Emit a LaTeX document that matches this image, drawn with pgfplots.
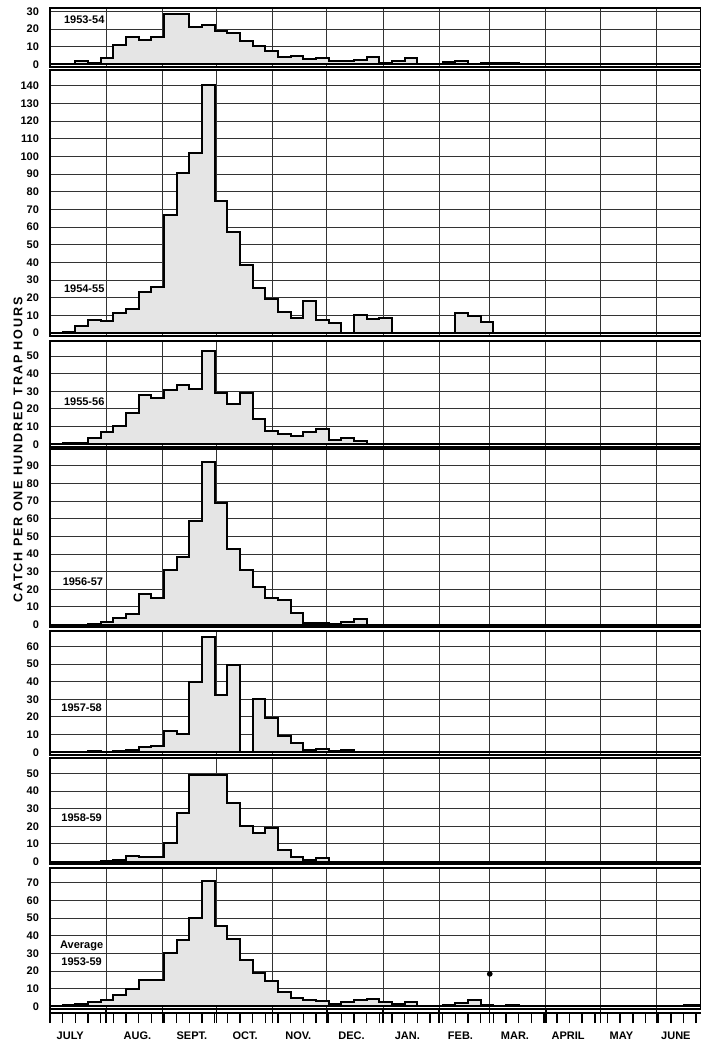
\documentclass[border=0pt]{standalone}
\usepackage{fontspec}
\setmainfont{Liberation Sans}
\usepackage{pgfplots}
\pgfplotsset{compat=1.18}

\newcommand\tickfont{\fontsize{5.5}{6}\selectfont\bfseries}
\newcommand\lblfont{\fontsize{5.5}{6.5}\selectfont\bfseries}

% month boundaries in weeks from 1 July
\def\months{0,4.43,8.86,13.14,17.57,21.86,26.29,30.71,34.71,39.14,43.43,47.86}

\pgfplotsset{
  panel/.style={
    x=6.335pt, y=0.8825pt, xmin=0, xmax=51.4,
    anchor=north west,
    axis line style={line width=1pt},
    xtick=\months, xticklabels={},
    ytick distance=10,
    grid=major, major grid style={black!80, line width=0.5pt},
    major tick length=0pt,
    yticklabel style={font=\tickfont, xshift=-2pt},
    /pgf/number format/assume math mode=true,
  },
  hist/.style={const plot mark left, fill=gray!20, draw=black, line width=1pt},
}

\begin{document}
\begin{tikzpicture}

% 1953-54
\begin{axis}[panel, at={(0pt,0pt)}, ymin=-1.5, ymax=32]
\addplot[hist] coordinates {(0,0)(1,0)(2,2)(3,1)(4,3.5)(5,11)(6,15.4)(7,14)(8,15.7)(9,28.5)(10,28.5)(11,21)(12,22.4)(13,19)(14,18)(15,13.5)(16,10.4)(17,7.4)(18,4)(19,4.8)(20,3)(21,3.5)(22,1.7)(23,2.2)(24,2.8)(25,4.4)(26,1.1)(27,1.7)(28,3.5)(29,0)(30,0)(31,1.3)(32,2)(33,0)(34,0.6)(35,0.6)(36,0.6)(37,0)(50,0.5)(51,0.5)(52,0)} \closedcycle;
\node[font=\lblfont] at (axis cs:2.7,25.4) {1953-54};
\end{axis}

% 1954-55
\begin{axis}[panel, at={(0pt,-31pt)}, ymin=-1.5, ymax=149]
\addplot[hist] coordinates {(0,0)(1,0.8)(2,4)(3,7.3)(4,7)(5,11.5)(6,13.4)(7,23.4)(8,26.2)(9,66.9)(10,90.6)(11,102)(12,140.3)(13,74.8)(14,57.4)(15,38.4)(16,25.4)(17,19.4)(18,11.7)(19,8.5)(20,18.3)(21,7.5)(22,5.5)(23,0)(24,10)(25,7.8)(26,8.3)(27,0)(32,11.5)(33,9.8)(34,6.5)(35,0)(52,0)} \closedcycle;
\node[font=\lblfont] at (axis cs:2.7,24.9) {1954-55};
\end{axis}

% 1955-56
\begin{axis}[panel, at={(0pt,-166.5pt)}, ymin=-1.5, ymax=58.5]
\addplot[hist] coordinates {(0,0)(1,1)(2,1)(3,3.8)(4,7)(5,10.2)(6,17.9)(7,27.9)(8,26)(9,30.8)(10,33.4)(11,31.5)(12,52.8)(13,29.2)(14,23)(15,28.9)(16,14.2)(17,7.7)(18,5.7)(19,4.5)(20,6.8)(21,8.9)(22,2.6)(23,3.6)(24,2.1)(25,0)(52,0)} \closedcycle;
\node[font=\lblfont] at (axis cs:2.7,24.2) {1955-56};
\end{axis}

% 1956-57
\begin{axis}[panel, at={(0pt,-220.5pt)}, ymin=-1.5, ymax=99.5]
\addplot[hist] coordinates {(0,0)(3,0.6)(4,1.3)(5,4)(6,5.9)(7,17.4)(8,15.3)(9,30.9)(10,38.3)(11,58.7)(12,92.2)(13,68.9)(14,42.8)(15,30.9)(16,21.2)(17,15.3)(18,14)(19,6.6)(20,0.9)(21,0.9)(22,0.4)(23,1.7)(24,3)(25,0)(52,0)} \closedcycle;
\node[font=\lblfont] at (axis cs:2.6,24.4) {1956-57};
\end{axis}

% 1957-58
\begin{axis}[panel, at={(0pt,-311.5pt)}, ymin=-1.5, ymax=68.7]
\addplot[hist] coordinates {(0,0)(3,0.6)(4,0.2)(5,1)(6,1.5)(7,2.9)(8,3.8)(9,12)(10,10.5)(11,39.6)(12,65.3)(13,32.4)(14,49.7)(15,0)(16,30.1)(17,19.6)(18,9.5)(19,5.3)(20,1.1)(21,2.1)(22,0.8)(23,1.5)(24,0)(52,0)} \closedcycle;
\node[font=\lblfont] at (axis cs:2.5,25.1) {1957-58};
\end{axis}

% 1958-59
\begin{axis}[panel, at={(0pt,-375pt)}, ymin=-1.5, ymax=58.7]
\addplot[hist] coordinates {(0,0)(4,0.4)(5,1)(6,3.2)(7,2.6)(8,2.5)(9,10.8)(10,27.4)(11,49)(12,49)(13,49)(14,33)(15,20.4)(16,16.4)(17,18.9)(18,6.6)(19,2.5)(20,0.9)(21,2.1)(22,0)(52,0)} \closedcycle;
\node[font=\lblfont] at (axis cs:2.5,25.1) {1958-59};
\end{axis}

% Average 1953-59
\begin{axis}[panel, at={(0pt,-430pt)}, ymin=-1.5, ymax=78.4]
\addplot[hist] coordinates {(0,0.2)(1,0.6)(2,1.5)(3,2.6)(4,3.9)(5,6.6)(6,9.9)(7,15)(8,15)(9,30.4)(10,37.9)(11,49.9)(12,71.3)(13,45.6)(14,38.1)(15,26.5)(16,18.8)(17,14.6)(18,8.4)(19,4.9)(20,3.8)(21,3.2)(22,1.5)(23,2.3)(24,3.4)(25,4.3)(26,2.3)(27,1.1)(28,2.4)(29,0)(31,0.6)(32,2.1)(33,3.8)(34,1)(35,0.5)(36,0.8)(37,0)(49,0.5)(50,1)(51,1)(52,0)} \closedcycle;
\addplot[only marks, mark=*, mark size=1.2pt, black] coordinates {(34.71,18.4)};
\node[font=\lblfont] at (axis cs:2.5,34.1) {Average};
\node[font=\lblfont] at (axis cs:2.5,25.1) {1953-59};
\end{axis}

% week / month scale
\begin{axis}[at={(0pt,-500.5pt)}, anchor=north west,
  x=6.335pt, y=2pt, xmin=0, xmax=51.4, ymin=0, ymax=1,
  axis x line=bottom, axis y line=none,
  x axis line style={-, line width=1pt},
  xtick={1.6,6.9,11.2,15.4,19.6,23.8,28.2,32.4,36.7,40.9,45.1,49.4},
  xticklabels={JULY,AUG.,SEPT.,OCT.,NOV.,DEC.,JAN.,FEB.,MAR.,APRIL,MAY,JUNE},
  xticklabel style={font=\tickfont, yshift=-6pt},
  major tick length=0pt,
  minor xtick={0,1,...,51,4.43,8.86,13.14,17.57,21.86,26.29,30.71,34.71,39.14,43.43,47.86},
  minor tick length=5pt, tick align=outside,
  minor tick style={line width=0.7pt, black},
  extra x ticks=\months, extra x tick labels={},
  extra x tick style={grid=major},
  major grid style={black, line width=0.7pt},
]
\addplot[draw=none] coordinates {(0,0)};
\end{axis}

\node[rotate=90, font=\fontsize{6.3}{7}\selectfont\bfseries\addfontfeature{LetterSpace=15}]
  at (-16pt,-221pt) {CATCH PER ONE HUNDRED TRAP HOURS};

\pgfresetboundingbox
\path (-25pt,4pt) rectangle (325.5pt,-518.5pt);
\end{tikzpicture}
\end{document}
